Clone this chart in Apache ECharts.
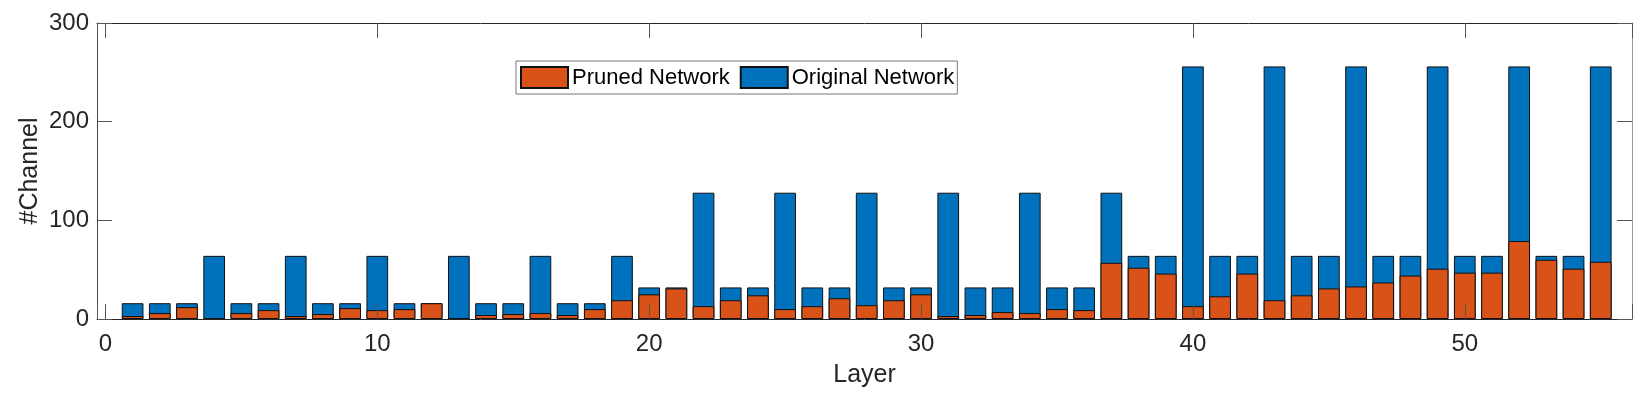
<!DOCTYPE html>
<html>
<head>
<meta charset="utf-8">
<script src="https://cdn.jsdelivr.net/npm/echarts@6/dist/echarts.min.js"></script>
<style>
    html, body { margin: 0; padding: 0; background: #fff; }
    #chart { width: 1652px; height: 393px; }
</style>
</head>
<body>
<div id="chart"></div>
<script>
// channels per layer
var layers = [];
for (var i = 1; i <= 55; i++) layers.push(i);

var original = [16, 16, 16, 64, 16, 16, 64, 16, 16, 64,
    16, 16, 64, 16, 16, 64, 16, 16, 64, 32,
    32, 128, 32, 32, 128, 32, 32, 128, 32, 32,
    128, 32, 32, 128, 32, 32, 128, 64, 64, 256,
    64, 64, 256, 64, 64, 256, 64, 64, 256, 64,
    64, 256, 64, 64, 256];

var pruned = [3, 6, 12, 1, 6, 9, 3, 5, 11, 9,
    10, 16, 1, 4, 5, 6, 4, 10, 19, 25,
    31, 13, 19, 24, 10, 13, 21, 14, 19, 25,
    3, 4, 7, 6, 10, 9, 57, 52, 46, 13,
    23, 46, 19, 24, 31, 33, 37, 44, 51, 47,
    47, 79, 60, 51, 58];

var yTicks = [0, 100, 200, 300];

var font = 'Liberation Sans, Arial, Helvetica, sans-serif';
var textColor = '#262626';

function pairs(vals) {
    return layers.map(function (l, i) { return [l, vals[i]]; });
}

var chart = echarts.init(document.getElementById('chart'));

var option = {
    animation: false,
    backgroundColor: '#fff',
    textStyle: { fontFamily: font },
    grid: { left: 97, top: 23, right: 20, bottom: 74 },
    legend: {
        data: ['Pruned Network', 'Original Network'],
        left: 516,
        top: 61,
        orient: 'horizontal',
        padding: [5, 3, 5, 4],
        itemWidth: 47,
        itemHeight: 21,
        itemGap: 10,
        borderColor: '#777',
        borderWidth: 1,
        icon: 'rect',
        textStyle: { fontFamily: font, fontSize: 22, color: '#000', padding: [0, 0, 0, -1] }
    },
    xAxis: [{
        type: 'value',
        min: -0.31,
        max: 56.15,
        z: 5,
        name: 'Layer',
        nameLocation: 'middle',
        nameGap: 44,
        nameTextStyle: { fontFamily: font, fontSize: 25, color: textColor },
        axisLine: { show: true, onZero: false, lineStyle: { color: textColor, width: 1 } },
        axisTick: { show: true, inside: true, length: 15, lineStyle: { color: '#555' } },
        axisLabel: {
            fontFamily: font, fontSize: 24, color: textColor, margin: 13,
            formatter: function (v) { return v % 10 === 0 ? String(v) : ''; }
        },
        splitLine: { show: false }
    }, {
        type: 'value',
        position: 'top',
        min: -0.31,
        max: 56.15,
        z: 5,
        axisLine: { show: true, onZero: false, lineStyle: { color: textColor, width: 1 } },
        axisTick: { show: true, inside: true, length: 15, lineStyle: { color: '#555' } },
        axisLabel: { show: false },
        splitLine: { show: false }
    }],
    yAxis: [{
        type: 'value',
        min: yTicks[0],
        max: yTicks[yTicks.length - 1],
        interval: 100,
        z: 5,
        name: '#Channel',
        nameLocation: 'middle',
        nameGap: 54,
        nameMoveOverlap: false,
        nameTextStyle: { fontFamily: font, fontSize: 25, color: textColor },
        axisLine: { show: true, onZero: false, lineStyle: { color: '#444', width: 1 } },
        axisTick: { show: true, inside: true, length: 15, lineStyle: { color: '#555' } },
        axisLabel: { fontFamily: font, fontSize: 24, color: textColor, margin: 8 },
        splitLine: { show: false }
    }, {
        type: 'value',
        position: 'right',
        min: yTicks[0],
        max: yTicks[yTicks.length - 1],
        interval: 100,
        z: 5,
        axisLine: { show: true, onZero: false, lineStyle: { color: '#999', width: 1 } },
        axisTick: { show: true, inside: true, length: 15, lineStyle: { color: '#555' } },
        axisLabel: { show: false },
        splitLine: { show: false }
    }],
    series: [{
        name: 'Original Network',
        type: 'bar',
        barWidth: 21.7,
        barGap: '-100%',
        itemStyle: { color: '#0072BD', borderColor: '#111', borderWidth: 1 },
        data: pairs(original)
    }, {
        name: 'Pruned Network',
        type: 'bar',
        barWidth: 21.7,
        barGap: '-100%',
        itemStyle: { color: '#D95319', borderColor: '#111', borderWidth: 1 },
        data: pairs(pruned)
    }]
};

chart.setOption(option);
</script>
</body>
</html>
